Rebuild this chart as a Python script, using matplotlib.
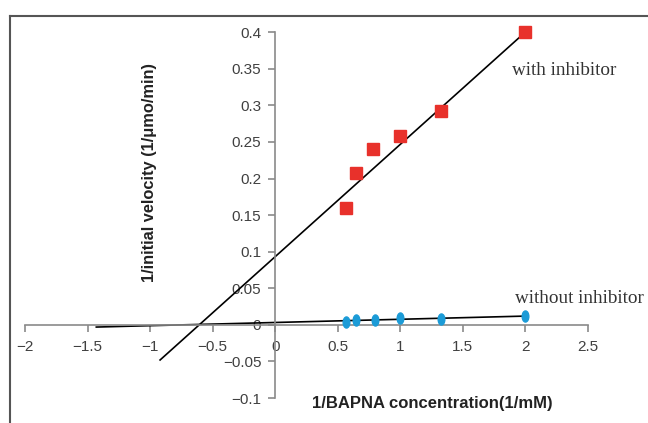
import matplotlib
matplotlib.use('Agg')
import matplotlib.pyplot as plt
from matplotlib.markers import MarkerStyle
from matplotlib.transforms import Affine2D
from matplotlib.lines import Line2D

# Lineweaver-Burk data
x_with = [0.57, 0.65, 0.78, 1.0, 1.33, 2.0]
y_with = [0.160, 0.207, 0.240, 0.258, 0.292, 0.400]
x_without = [0.57, 0.65, 0.80, 1.0, 1.33, 2.0]
y_without = [0.004, 0.006, 0.007, 0.009, 0.008, 0.012]

# fitted lines (end points)
fit_with_x = [-0.92, 2.0]
fit_with_y = [-0.048, 0.400]
fit_without_x = [-1.43, 2.0]
fit_without_y = [-0.003, 0.012]

xticks = [-2, -1.5, -1, -0.5, 0, 0.5, 1, 1.5, 2, 2.5]
yticks = [-0.1, -0.05, 0, 0.05, 0.1, 0.15, 0.2, 0.25, 0.3, 0.35, 0.4]

plt.rcParams['font.family'] = ['Liberation Sans', 'DejaVu Sans']

fig = plt.figure(figsize=(6.48, 4.23), dpi=100)
ax = fig.add_axes([0.0386, 0.059, 0.8685, 0.865])

ax.plot(fit_with_x, fit_with_y, color='black', lw=1.2, zorder=2)
ax.plot(fit_without_x, fit_without_y, color='black', lw=1.2, zorder=2)
ax.plot(x_with, y_with, 's', color='#e8312b', ms=9, zorder=3, clip_on=False)
ell = MarkerStyle('o', transform=Affine2D().scale(0.6, 1.0))
ax.plot(x_without, y_without, linestyle='none', marker=ell, color='#1b9bd7', ms=8,
        zorder=3, clip_on=False)

ax.set_xlim(-2, 2.5)
ax.set_ylim(-0.1, 0.4)
ax.set_xticks(xticks)
ax.set_yticks(yticks)
ax.set_xticklabels(['\u22122', '\u22121.5', '\u22121', '\u22120.5', '0', '0.5', '1', '1.5', '2', '2.5'])
ax.set_yticklabels(['\u22120.1', '\u22120.05', '0', '0.05', '0.1', '0.15', '0.2', '0.25', '0.3', '0.35', '0.4'])

ax.spines['left'].set_position(('data', 0))
ax.spines['bottom'].set_position(('data', 0))
ax.spines['right'].set_visible(False)
ax.spines['top'].set_visible(False)
for s in ['left', 'bottom']:
    ax.spines[s].set_color('#8a8a8a')
    ax.spines[s].set_linewidth(1.2)
ax.tick_params(direction='out', length=5, width=1.2, color='#8a8a8a',
               labelsize=11, labelcolor='#404040')
ax.tick_params(axis='x', pad=6)
ax.tick_params(axis='y', pad=5)
ax.patch.set_visible(False)

ax.text(1.89, 0.348, 'with inhibitor', family='Liberation Serif', fontsize=13.8,
        color='#333333', ha='left', va='center')
ax.text(1.915, 0.036, 'without inhibitor', family='Liberation Serif', fontsize=13.8,
        color='#333333', ha='left', va='center', clip_on=False)

fig.text(0.231, 0.593, '1/initial velocity (1/\u03bcmo/min)', rotation=90,
         fontsize=11.8, fontweight='bold', color='#222222', ha='center', va='center')
fig.text(0.667, 0.047, '1/BAPNA concentration(1/mM)', fontsize=12,
         fontweight='bold', color='#222222', ha='center', va='center')

# outer frame
fig.add_artist(Line2D([10 / 648, 1], [1 - 16 / 423, 1 - 16 / 423],
                      transform=fig.transFigure, color='#555555', lw=1.5))
fig.add_artist(Line2D([10 / 648, 10 / 648], [0, 1 - 16 / 423],
                      transform=fig.transFigure, color='#555555', lw=1.5))

fig.savefig('out.png', dpi=100)
plt.close()
